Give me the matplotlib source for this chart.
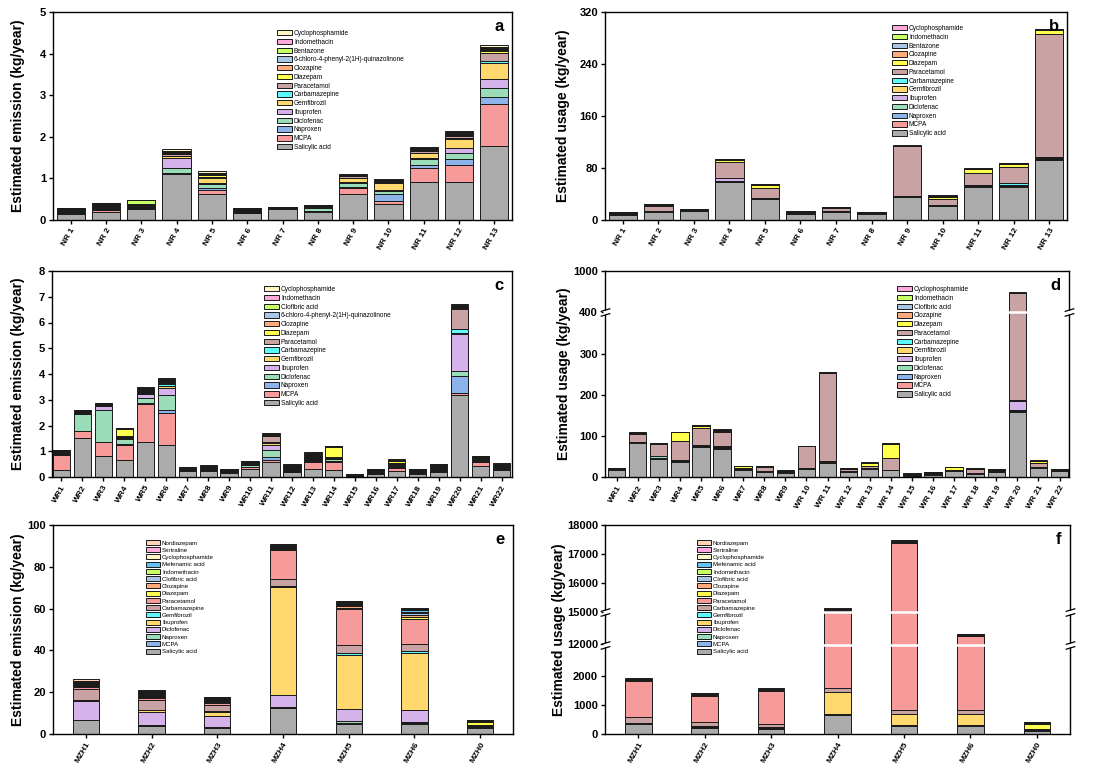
import numpy as np
import matplotlib.pyplot as plt
from matplotlib.path import Path

plt.rcParams['font.family'] = ['Liberation Sans', 'DejaVu Sans']

# ---------------- data ----------------
nr_sites = [f"NR {i}" for i in range(1, 14)]
wr_sites_c = [f"WR{i}" for i in range(1, 23)]
wr_sites_d = [f"WR{i}" if i < 10 else f"WR {i}" for i in range(1, 23)]
mzh_sites = ["MZH1", "MZH2", "MZH3", "MZH4", "MZH5", "MZH6", "MZH0"]

a_compounds = ["Salicylic acid", "MCPA", "Naproxen", "Diclofenac", "Ibuprofen", "Gemfibrozil",
               "Carbamazepine", "Paracetamol", "Diazepam", "Clozapine",
               "6-chloro-4-phenyl-2(1H)-quinazolinone", "Bentazone", "Indomethacin", "Cyclophosphamide"]
b_compounds = ["Salicylic acid", "MCPA", "Naproxen", "Diclofenac", "Ibuprofen", "Gemfibrozil",
               "Carbamazepine", "Paracetamol", "Diazepam", "Clozapine", "Bentazone", "Indomethacin",
               "Cyclophosphamide"]
c_compounds = ["Salicylic acid", "MCPA", "Naproxen", "Diclofenac", "Ibuprofen", "Gemfibrozil",
               "Carbamazepine", "Paracetamol", "Diazepam", "Clozapine",
               "6-chloro-4-phenyl-2(1H)-quinazolinone", "Clofibric acid", "Indomethacin", "Cyclophosphamide"]
d_compounds = ["Salicylic acid", "MCPA", "Naproxen", "Diclofenac", "Ibuprofen", "Gemfibrozil",
               "Carbamazepine", "Paracetamol", "Diazepam", "Clozapine", "Clofibric acid", "Indomethacin",
               "Cyclophosphamide"]
ef_compounds = ["Salicylic acid", "MCPA", "Naproxen", "Diclofenac", "Ibuprofen", "Gemfibrozil",
                "Carbamazepine", "Paracetamol", "Diazepam", "Clozapine", "Clofibric acid", "Indomethacin",
                "Mefenamic acid", "Cyclophosphamide", "Sertraline", "Nordiazepam"]

# rows = sites, columns = compounds (same order as the compound lists)
a_emission = [
    [0.14, 0.01, 0.01, 0.02, 0.01, 0.03, 0.005, 0.01, 0.02, 0.005, 0.005, 0.01, 0.005, 0.005],
    [0.20, 0.03, 0.02, 0.02, 0.01, 0.02, 0.01, 0.03, 0.02, 0.01, 0.01, 0.02, 0.005, 0.01],
    [0.26, 0.01, 0.01, 0.03, 0.01, 0.02, 0.01, 0.01, 0.01, 0.005, 0.005, 0.10, 0.005, 0.005],
    [1.10, 0.02, 0.02, 0.10, 0.26, 0.04, 0.01, 0.03, 0.04, 0.01, 0.01, 0.02, 0.01, 0.03],
    [0.62, 0.10, 0.04, 0.10, 0.02, 0.12, 0.01, 0.03, 0.04, 0.01, 0.01, 0.03, 0.01, 0.04],
    [0.18, 0.01, 0.005, 0.01, 0.005, 0.03, 0.005, 0.01, 0.01, 0.005, 0.005, 0.005, 0.005, 0.005],
    [0.26, 0.005, 0.005, 0.005, 0.005, 0.005, 0.005, 0.005, 0.01, 0.0025, 0.0025, 0.005, 0.0025, 0.0025],
    [0.19, 0.01, 0.01, 0.08, 0.005, 0.01, 0.005, 0.01, 0.01, 0.005, 0.005, 0.02, 0.005, 0.005],
    [0.62, 0.14, 0.04, 0.10, 0.02, 0.08, 0.01, 0.05, 0.01, 0.005, 0.005, 0.005, 0.005, 0.01],
    [0.38, 0.08, 0.16, 0.08, 0.01, 0.17, 0.01, 0.01, 0.02, 0.01, 0.01, 0.02, 0.01, 0.02],
    [0.92, 0.34, 0.06, 0.14, 0.02, 0.12, 0.02, 0.03, 0.04, 0.01, 0.01, 0.01, 0.01, 0.02],
    [0.92, 0.40, 0.14, 0.14, 0.12, 0.23, 0.03, 0.03, 0.04, 0.01, 0.02, 0.02, 0.01, 0.03],
    [1.78, 1.02, 0.16, 0.22, 0.22, 0.38, 0.04, 0.20, 0.04, 0.02, 0.04, 0.02, 0.02, 0.04],
]
b_usage = [
    [7.7, 0.5, 0.3, 0.3, 0.5, 0.3, 0.2, 1.5, 1.0, 0.2, 0.2, 0.1, 0.1],
    [12.3, 0.3, 0.2, 0.2, 0.3, 0.2, 0.2, 8.0, 1.5, 0.3, 0.5, 0.3, 0.3],
    [14.3, 0.2, 0.1, 0.1, 0.3, 0.1, 0.1, 0.5, 0.3, 0.1, 0.1, 0.1, 0.1],
    [58.4, 0.5, 0.5, 0.5, 4.0, 0.5, 0.5, 23.7, 3.6, 0.5, 0.5, 0.5, 0.5],
    [32.3, 0.3, 0.3, 0.3, 0.5, 0.3, 0.3, 15.4, 4.0, 0.3, 0.3, 0.5, 0.5],
    [9.7, 0.2, 0.2, 0.2, 0.2, 0.2, 0.2, 1.8, 0.2, 0.1, 0.1, 0.1, 0.1],
    [12.8, 0.3, 0.2, 0.2, 0.3, 0.2, 0.2, 4.5, 0.4, 0.1, 0.1, 0.1, 0.1],
    [9.7, 0.2, 0.2, 0.2, 0.2, 0.2, 0.2, 0.6, 0.3, 0.1, 0.1, 0.1, 0.2],
    [34.8, 0.3, 0.3, 0.3, 0.3, 0.2, 0.3, 77.5, 0.3, 0.1, 0.1, 0.1, 0.1],
    [21.5, 0.5, 0.3, 0.3, 0.5, 0.3, 0.3, 8.5, 3.5, 0.5, 0.5, 0.5, 1.2],
    [50.2, 1.0, 0.5, 0.5, 0.5, 0.5, 0.5, 18.5, 5.5, 0.3, 0.3, 0.3, 0.8],
    [50.2, 1.0, 1.0, 1.0, 0.5, 0.5, 2.0, 25.7, 5.0, 0.3, 0.3, 0.3, 0.6],
    [92.2, 1.0, 1.0, 0.5, 0.5, 0.5, 1.0, 189.0, 6.7, 0.3, 0.3, 0.2, 0.4],
]
c_emission = [
    [0.29, 0.58, 0.02, 0.02, 0.01, 0.02, 0.005, 0.03, 0.02, 0.01, 0.01, 0.01, 0.01, 0.03],
    [1.51, 0.26, 0.03, 0.63, 0.02, 0.02, 0.01, 0.04, 0.02, 0.01, 0.01, 0.02, 0.01, 0.03],
    [0.82, 0.52, 0.02, 1.26, 0.12, 0.02, 0.01, 0.02, 0.02, 0.01, 0.01, 0.02, 0.01, 0.02],
    [0.67, 0.58, 0.02, 0.20, 0.04, 0.03, 0.02, 0.04, 0.27, 0.005, 0.005, 0.005, 0.005, 0.005],
    [1.34, 1.50, 0.04, 0.17, 0.17, 0.05, 0.02, 0.04, 0.05, 0.02, 0.02, 0.03, 0.02, 0.04],
    [1.25, 1.25, 0.10, 0.60, 0.27, 0.06, 0.08, 0.05, 0.03, 0.02, 0.02, 0.04, 0.02, 0.05],
    [0.23, 0.01, 0.01, 0.01, 0.01, 0.01, 0.01, 0.02, 0.02, 0.01, 0.01, 0.01, 0.01, 0.01],
    [0.23, 0.03, 0.01, 0.02, 0.01, 0.04, 0.01, 0.03, 0.02, 0.01, 0.01, 0.01, 0.01, 0.01],
    [0.15, 0.02, 0.01, 0.02, 0.01, 0.02, 0.01, 0.02, 0.02, 0.01, 0.01, 0.01, 0.005, 0.005],
    [0.32, 0.05, 0.03, 0.06, 0.02, 0.02, 0.02, 0.03, 0.02, 0.01, 0.01, 0.01, 0.01, 0.01],
    [0.57, 0.08, 0.12, 0.26, 0.23, 0.06, 0.04, 0.22, 0.02, 0.02, 0.02, 0.02, 0.01, 0.04],
    [0.20, 0.05, 0.02, 0.02, 0.01, 0.04, 0.01, 0.03, 0.04, 0.01, 0.01, 0.02, 0.01, 0.02],
    [0.33, 0.25, 0.03, 0.06, 0.02, 0.05, 0.02, 0.04, 0.06, 0.02, 0.02, 0.02, 0.01, 0.03],
    [0.28, 0.32, 0.02, 0.06, 0.02, 0.02, 0.02, 0.04, 0.40, 0.005, 0.005, 0.005, 0.005, 0.005],
    [0.02, 0.01, 0.01, 0.01, 0.01, 0.01, 0.005, 0.01, 0.01, 0.005, 0.005, 0.01, 0.005, 0.01],
    [0.12, 0.02, 0.01, 0.02, 0.01, 0.03, 0.01, 0.02, 0.03, 0.01, 0.01, 0.01, 0.01, 0.01],
    [0.24, 0.12, 0.02, 0.05, 0.02, 0.05, 0.01, 0.04, 0.06, 0.01, 0.01, 0.02, 0.01, 0.03],
    [0.12, 0.04, 0.02, 0.02, 0.01, 0.02, 0.01, 0.02, 0.02, 0.01, 0.01, 0.01, 0.005, 0.005],
    [0.19, 0.06, 0.04, 0.03, 0.02, 0.03, 0.01, 0.03, 0.03, 0.01, 0.01, 0.02, 0.01, 0.02],
    [3.20, 0.08, 0.65, 0.19, 1.42, 0.06, 0.14, 0.79, 0.03, 0.06, 0.03, 0.02, 0.02, 0.03],
    [0.43, 0.17, 0.02, 0.04, 0.02, 0.02, 0.02, 0.02, 0.02, 0.01, 0.01, 0.02, 0.01, 0.02],
    [0.26, 0.06, 0.02, 0.02, 0.02, 0.02, 0.01, 0.02, 0.02, 0.01, 0.01, 0.03, 0.02, 0.03],
]
d_usage = [
    [16, 0.3, 0.2, 0.2, 0.3, 0.2, 0.2, 3, 0.5, 0.2, 0.2, 0.2, 0.2],
    [82, 0.5, 0.5, 0.5, 1, 0.5, 0.5, 19, 1.5, 0.5, 0.5, 0.5, 1],
    [43.5, 0.5, 1, 5, 1, 0.5, 0.5, 29, 1, 0.3, 0.3, 0.3, 0.8],
    [36.3, 1, 0.5, 0.5, 1, 0.5, 0.5, 46.5, 22, 0.3, 0.3, 0.3, 0.5],
    [72.4, 1, 2, 1, 1, 0.5, 0.5, 41, 5, 0.5, 0.5, 0.5, 1.5],
    [67.7, 1, 2, 2, 2, 0.5, 0.5, 34, 3, 0.5, 1, 0.5, 2.5],
    [17.7, 0.5, 0.3, 0.5, 0.5, 0.3, 0.3, 2.5, 3, 0.3, 0.3, 0.3, 0.9],
    [12, 0.5, 0.3, 0.3, 0.5, 0.3, 0.3, 11, 1, 0.3, 0.3, 0.3, 0.3],
    [8.9, 0.5, 0.3, 0.5, 0.5, 0.3, 0.3, 1.5, 2, 0.3, 0.3, 0.3, 0.3],
    [19.3, 0.3, 0.3, 0.3, 0.3, 0.2, 0.2, 54, 0.5, 0.2, 0.2, 0.2, 0.5],
    [33.8, 0.5, 0.5, 0.5, 3, 0.5, 0.5, 213, 1, 0.5, 0.5, 0.5, 1.5],
    [12, 0.5, 0.3, 0.3, 0.3, 0.3, 0.3, 5, 1, 0.3, 0.3, 0.3, 0.8],
    [19.3, 0.5, 0.5, 0.5, 1, 0.3, 0.3, 4.5, 6, 0.3, 0.3, 0.3, 1.6],
    [16, 0.5, 0.3, 0.3, 0.3, 0.3, 0.3, 27.5, 35, 0.3, 0.3, 0.3, 0.6],
    [1, 0.5, 0.5, 0.5, 1, 0.5, 0.5, 1, 1, 0.5, 0.5, 0.5, 0.9],
    [4, 0.5, 0.5, 0.5, 1, 0.5, 0.5, 1.5, 1.5, 0.5, 0.5, 0.5, 0.9],
    [15, 0.3, 0.3, 0.3, 0.3, 0.2, 0.2, 1, 5.5, 0.2, 0.2, 0.2, 0.3],
    [8, 0.3, 0.3, 0.3, 0.3, 0.3, 0.3, 9, 1, 0.3, 0.3, 0.3, 0.8],
    [12.9, 0.3, 0.3, 0.3, 0.3, 0.3, 0.3, 1, 2.5, 0.2, 0.2, 0.2, 0.5],
    [158.5, 1.5, 1, 1, 22, 1, 3, 492, 2, 1, 1, 1, 4],
    [21, 1, 0.5, 0.5, 0.5, 0.5, 0.5, 9, 5, 0.5, 0.5, 0.5, 1.5],
    [14.5, 0.3, 0.3, 0.3, 0.3, 0.3, 0.3, 0.8, 1.5, 0.2, 0.2, 0.2, 0.8],
]
e_emission = [
    [6.5, 0.2, 0.2, 8.8, 0.3, 0.1, 5.4, 0.8, 0.5, 0.8, 0.3, 0.5, 0.3, 0.3, 0.3, 0.8],
    [4.0, 0.3, 0.2, 5.8, 1.0, 0.2, 5.0, 0.6, 0.5, 0.8, 0.3, 0.5, 0.5, 0.3, 0.4, 0.7],
    [3.0, 0.2, 0.2, 5.0, 2.2, 0.2, 3.0, 1.0, 0.5, 0.5, 0.3, 0.5, 0.5, 0.3, 0.3, 0.2],
    [12.5, 0.3, 0.3, 5.5, 51.6, 0.5, 3.7, 13.7, 0.5, 0.3, 0.3, 0.3, 0.3, 0.3, 0.3, 0.5],
    [4.8, 0.5, 0.8, 5.8, 25.7, 1.2, 3.9, 17.2, 0.5, 0.8, 0.5, 0.4, 0.8, 0.2, 0.3, 0.3],
    [4.6, 0.5, 0.8, 5.5, 27.3, 0.9, 3.6, 11.9, 0.8, 1.2, 0.6, 0.8, 1.0, 0.2, 0.3, 0.3],
    [3.0, 0.1, 0.1, 0.1, 0.1, 0.1, 0.3, 0.3, 1.8, 0.2, 0.1, 0.1, 0.2, 0.1, 0.1, 0.1],
]
f_usage = [
    [347, 5, 5, 10, 20, 5, 174, 1249, 20, 10, 5, 10, 5, 20, 10, 15],
    [197, 10, 20, 40, 15, 5, 141, 867, 20, 20, 10, 20, 15, 10, 10, 10],
    [173, 10, 10, 20, 30, 10, 94, 1144, 10, 10, 5, 15, 10, 10, 5, 5],
    [659, 5, 5, 5, 771, 10, 129, 13446, 10, 10, 5, 10, 10, 10, 10, 35],
    [289, 10, 10, 10, 363, 10, 140, 16551, 10, 10, 5, 10, 5, 10, 10, 40],
    [266, 10, 10, 10, 386, 10, 130, 11888, 30, 30, 10, 30, 20, 20, 20, 70],
    [116, 5, 5, 5, 5, 5, 10, 10, 186, 10, 5, 10, 10, 10, 5, 18],
]

# ---------------- style ----------------
nr_colors = ['#ABABAB', '#F69A9A', '#8DB4EA', '#9ADDB8', '#D5B3EA', '#FFD96E', '#5CFAFA',
             '#C9A3A3', '#FFFF4D', '#FFAA7A', '#A9C6E6', '#C6FF66', '#FFA9DD', '#FFF6C6']
mzh_colors = ['#ABABAB', '#8DB4EA', '#9ADDB8', '#D5B3EA', '#FFD96E', '#5CFAFA', '#C9A3A3',
              '#F69A9A', '#FFFF4D', '#FFAA7A', '#A9C6E6', '#C6FF66', '#66C2F2', '#FFF6C6',
              '#FFA9DD', '#FFD3B8']
edge = '#1a1a1a'
W, H = 1094, 769


def px_axes(fig, left, right, top, bottom):
    return fig.add_axes([left / W, 1 - bottom / H, (right - left) / W, (bottom - top) / H])


def stacked(ax, sites, compounds, values, colors, width, xlim, leg_xy, leg_fs, leg_sp):
    values = np.array(values, dtype=float)
    x = np.arange(len(sites))
    bottom = np.zeros(len(sites))
    handles = []
    for j, name in enumerate(compounds):
        h = ax.bar(x, values[:, j], width, bottom=bottom, color=colors[j],
                   edgecolor=edge, linewidth=0.7, label=name)
        bottom += values[:, j]
        handles.append(h)
    ax.set_xlim(*xlim)
    ax.set_xticks(x)
    ax.set_xticklabels(sites, rotation=60, ha='right', rotation_mode='anchor',
                       fontsize=6, fontweight='bold')
    ax.tick_params(axis='x', direction='out', length=3, width=1, pad=2)
    ax.tick_params(axis='y', direction='out', length=3, width=1, labelsize=8, pad=2)
    for lab in ax.get_yticklabels():
        lab.set_fontweight('bold')
    for s in ax.spines.values():
        s.set_linewidth(1)
    ax.legend(handles[::-1], compounds[::-1], loc='upper left',
              bbox_to_anchor=(leg_xy[0] / W, 1 - leg_xy[1] / H), bbox_transform=fig.transFigure,
              frameon=False, fontsize=leg_fs, borderpad=0, borderaxespad=0,
              handlelength=2.3, handleheight=0.87, handletextpad=0.3, labelspacing=leg_sp)


def ylabel(ax, text, x_px, left_px):
    ax.set_ylabel(text, fontsize=10, fontweight='bold', va='center')
    width_px = ax.get_position().width * W
    ax.yaxis.set_label_coords((x_px - left_px) / width_px, 0.5)


slash = Path([(-1, -0.8), (1, -0.2), (-1, 0.2), (1, 0.8)],
             [Path.MOVETO, Path.LINETO, Path.MOVETO, Path.LINETO])


def axis_break(ax, y):
    ax.axhline(y, color='white', lw=1.8, zorder=3)
    tr = ax.get_yaxis_transform()
    for xa in (0, 1):
        ax.plot([xa], [y], marker='s', ms=3.5, mfc='white', mec='none', transform=tr,
                clip_on=False, zorder=6)
        ax.plot([xa], [y], marker=slash, ms=7, mfc='none', mec='black', mew=0.9,
                transform=tr, clip_on=False, zorder=7)


def piecewise(vals, pos):
    fwd = lambda v: np.interp(v, vals, pos)
    inv = lambda p: np.interp(p, pos, vals)
    return fwd, inv


fig = plt.figure(figsize=(W / 100, H / 100), dpi=100)

ax_a = px_axes(fig, 53, 512, 12, 220)
ax_b = px_axes(fig, 605, 1067, 12, 220)
ax_c = px_axes(fig, 52, 512, 271, 477)
ax_d = px_axes(fig, 605, 1069, 271, 477)
ax_e = px_axes(fig, 53, 513, 525, 734)
ax_f = px_axes(fig, 605, 1070, 525, 734)

# a
ax_a.set_ylim(0, 5)
ax_a.set_yticks([0, 1, 2, 3, 4, 5])
stacked(ax_a, nr_sites, a_compounds, a_emission, nr_colors, 0.8, (-0.5, 12.5), (277, 30), 4.7, 0.27)
ylabel(ax_a, "Estimated emission (kg/year)", 18, 53)

# b
ax_b.set_ylim(0, 320)
ax_b.set_yticks([0, 80, 160, 240, 320])
stacked(ax_b, nr_sites, b_compounds, b_usage, nr_colors, 0.8, (-0.5, 12.5), (892, 25), 4.7, 0.27)
ylabel(ax_b, "Estimated usage (kg/year)", 563, 605)

# c
ax_c.set_ylim(0, 8)
ax_c.set_yticks(range(0, 9))
stacked(ax_c, wr_sites_c, c_compounds, c_emission, nr_colors, 0.82, (-0.45, 21.5), (264, 286), 4.7, 0.27)
ylabel(ax_c, "Estimated emission (kg/year)", 18, 52)

# d (broken axis)
ax_d.set_yscale('function', functions=piecewise([0, 400, 1000], [0, 166, 207.7]))
ax_d.set_ylim(0, 1000)
ax_d.set_yticks([0, 100, 200, 300, 400, 1000])
ax_d.set_yticklabels(['0', '100', '200', '300', '400', '1000'])
stacked(ax_d, wr_sites_d, d_compounds, d_usage, nr_colors, 0.82, (-0.55, 21.45), (897, 286), 4.7, 0.27)
ylabel(ax_d, "Estimated usage (kg/year)", 564, 605)
axis_break(ax_d, 400)

# e
ax_e.set_ylim(0, 100)
ax_e.set_yticks([0, 20, 40, 60, 80, 100])
stacked(ax_e, mzh_sites, ef_compounds, e_emission, mzh_colors, 0.4, (-0.5, 6.5), (146, 540), 4.4, 0.27)
ylabel(ax_e, "Estimated emission (kg/year)", 18, 53)

# f (two breaks)
ax_f.set_yscale('function', functions=piecewise([0, 3000, 12000, 15000, 18000],
                                                [0, 87.5, 90.5, 122, 209]))
ax_f.set_ylim(0, 18000)
ax_f.set_yticks([0, 1000, 2000, 12000, 15000, 16000, 17000, 18000])
ax_f.set_yticklabels(['0', '1000', '2000', '12000', '15000', '16000', '17000', '18000'])
stacked(ax_f, mzh_sites, ef_compounds, f_usage, mzh_colors, 0.4, (-0.5, 6.5), (697, 540), 4.4, 0.27)
ylabel(ax_f, "Estimated usage (kg/year)", 559, 605)
axis_break(ax_f, 7500)
axis_break(ax_f, 15000)

for ax, letter in zip([ax_a, ax_b, ax_c, ax_d, ax_e, ax_f], "abcdef"):
    ax.text(0.982, 0.965, letter, transform=ax.transAxes, ha='right', va='top',
            fontsize=12, fontweight='bold')

fig.savefig("out.png", dpi=100)
